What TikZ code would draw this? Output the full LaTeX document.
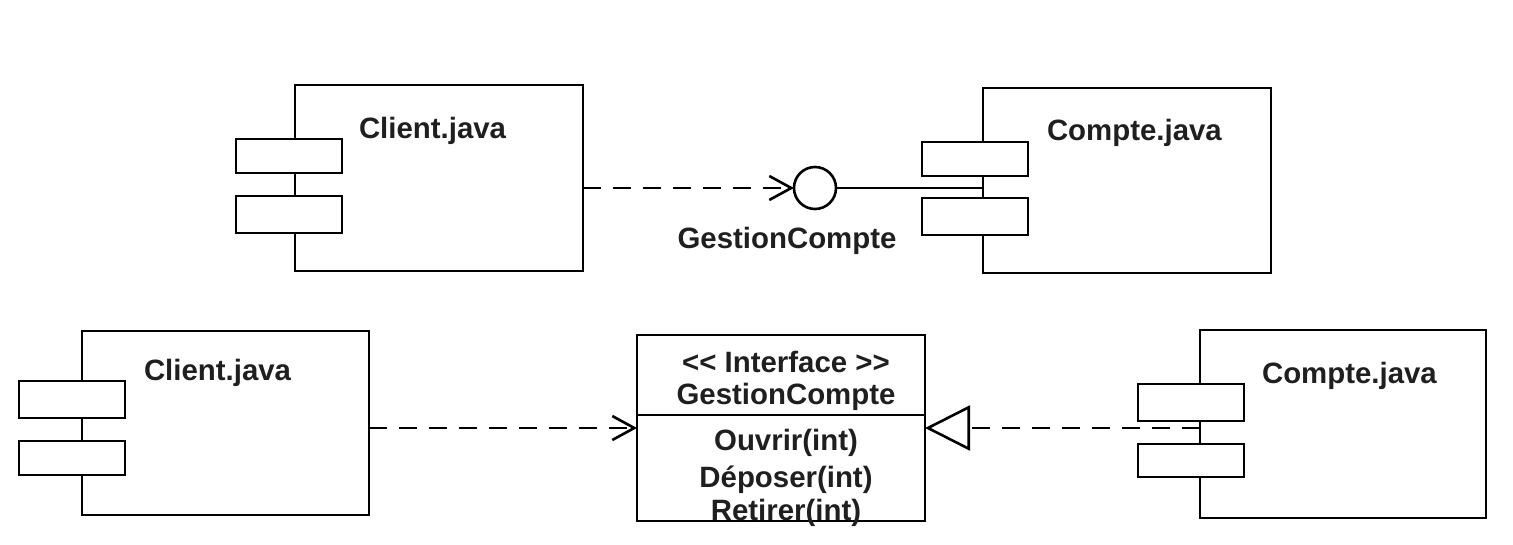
\documentclass[tikz,border=0pt]{standalone}
\usepackage{fontspec}
\setmainfont{Liberation Sans}
\usetikzlibrary{arrows.meta}
\begin{document}
\begin{tikzpicture}[x=0.5pt,y=-0.5pt,
  line width=1.3pt,
  every node/.style={outer sep=0pt, inner sep=0pt},
  body/.style={draw, rectangle, anchor=north west},
  port/.style={draw, fill=white, rectangle, anchor=north west, minimum width=53pt},
  title/.style={anchor=base west, font=\fontsize{14.7}{17}\bfseries\selectfont, text=black!88},
  label/.style={font=\fontsize{14.7}{17}\bfseries\selectfont, text=black!88},
  depend/.style={dash pattern=on 9pt off 6pt, -{Straight Barb[length=11pt,width=12pt]}},
  realize/.style={dash pattern=on 9pt off 6pt, -{Triangle[open,length=22.5pt,width=22.5pt,fill=white]}}
]
\useasboundingbox (0,0) rectangle (1513,545);

% upper row: Client.java
\node[body, minimum width=144pt, minimum height=93pt] (c1) at (295,85) {};
\node[port, minimum height=17pt] (c1a) at (236,139) {};
\node[port, minimum height=18.5pt] (c1b) at (236,196) {};
\node[title] (c1t) at (359,139) {Client.java};

% upper row: Compte.java
\node[body, minimum width=144pt, minimum height=92.5pt] (k1) at (983,88) {};
\node[port, minimum height=17pt] (k1a) at (922,142) {};
\node[port, minimum height=18.5pt] (k1b) at (922,198) {};
\node[title] (k1t) at (1047,141) {Compte.java};

% provided interface (lollipop)
\node[draw, circle, minimum size=21pt] (lol) at (815,188) {};
\node[label] (loll) at (787,241) {GestionCompte};

\draw[depend] (c1.east |- lol.west) -- (lol.west);
\draw (lol.east) -- (k1.west |- lol.east);

% lower row: Client.java
\node[body, minimum width=143.5pt, minimum height=92pt] (c2) at (82,331) {};
\node[port, minimum height=18.5pt] (c2a) at (19,381) {};
\node[port, minimum height=17pt] (c2b) at (19,441) {};
\node[title] (c2t) at (144,380) {Client.java};

% lower row: interface class
\node[body, minimum width=144pt, minimum height=93pt] (itf) at (637,335) {};
\draw (itf.west |- 0,415) -- (itf.east |- 0,415);
\node[label] (s1) at (786,362) {{<}{<} Interface {>}{>}};
\node[label] (s2) at (786,397) {GestionCompte};
\node[label] (m1) at (786,443) {Ouvrir(int)};
\node[label] (m2) at (786,480) {Déposer(int)};
\node[label] (m3) at (786,513) {Retirer(int)};

% lower row: Compte.java
\node[body, minimum width=143pt, minimum height=94pt] (k2) at (1200,330) {};
\node[port, minimum height=18.5pt] (k2a) at (1138,384) {};
\node[port, minimum height=16.5pt] (k2b) at (1138,444) {};
\node[title] (k2t) at (1262,383) {Compte.java};

\draw[depend] (c2.east |- itf.west) -- (itf.west);
\draw[realize] (k2.west |- itf.east) -- (itf.east);
\end{tikzpicture}
\end{document}
